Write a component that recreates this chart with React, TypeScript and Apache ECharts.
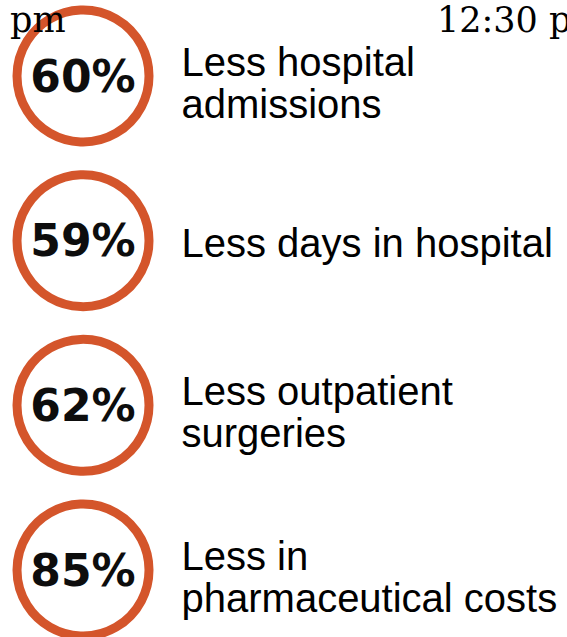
import React, { useEffect, useRef } from "react";
import * as echarts from "echarts";

const categories = ["admissions", "days", "surgeries", "pharma"];
const percentValues = [60, 59, 62, 85];
const descriptions = [
  "Less hospital\nadmissions",
  "Less days in hospital",
  "Less outpatient\nsurgeries",
  "Less in\npharmaceutical costs",
];
const headerLeft = "pm";
const headerRight = "12:30 pm";

const ORANGE = "#D4552B";

export default function App() {
  const ref = useRef<HTMLDivElement>(null);
  useEffect(() => {
    if (!ref.current) return;
    const chart = echarts.init(ref.current, null, { renderer: "svg" });
    const circleData = categories.map((c, i) => ({
      value: [0, c],
      label: { formatter: `${percentValues[i]}%` },
    }));
    const textData = categories.map((c, i) => ({
      value: [0, c],
      label: {
        formatter: descriptions[i],
        offset: [0, descriptions[i].includes("\n") ? 7 : 2],
      },
    }));
    chart.setOption({
      animation: false,
      backgroundColor: "#ffffff",
      grid: { left: 83, right: 40, top: 76, bottom: 67 },
      xAxis: { type: "value", min: 0, max: 1, show: false },
      yAxis: {
        type: "category",
        data: categories,
        inverse: true,
        boundaryGap: false,
        show: false,
      },
      graphic: [
        {
          type: "text",
          left: 10,
          top: 2,
          style: {
            text: headerLeft,
            font: "35px 'DejaVu Serif'",
            fill: "#000",
          },
          z: 100,
        },
        {
          type: "text",
          left: 437,
          top: 2,
          style: {
            text: headerRight,
            font: "35px 'DejaVu Serif'",
            fill: "#000",
          },
          z: 100,
        },
      ],
      series: [
        {
          type: "scatter",
          data: circleData,
          symbol: "circle",
          symbolSize: 132,
          itemStyle: {
            color: "#ffffff",
            borderColor: ORANGE,
            borderWidth: 9,
            opacity: 1,
          },
          label: {
            show: true,
            position: "inside",
            fontFamily: "'DejaVu Sans'",
            fontWeight: "bold",
            fontSize: 44,
            color: "#0d0d0d",
          },
          z: 2,
        },
        {
          type: "scatter",
          data: textData,
          symbol: "circle",
          symbolSize: 1,
          itemStyle: { color: "rgba(255,255,255,0)" },
          label: {
            show: true,
            position: "right",
            distance: 98,
            fontFamily: "'Liberation Sans', Arial, sans-serif",
            fontSize: 40,
            lineHeight: 42,
            color: "#000000",
            opacity: 1,
            align: "left",
          },
          z: 3,
        },
      ],
    });
    return () => chart.dispose();
  }, []);
  return (
    <div
      ref={ref}
      style={{ position: "absolute", left: 0, top: 0, width: 567, height: 637 }}
    />
  );
}
